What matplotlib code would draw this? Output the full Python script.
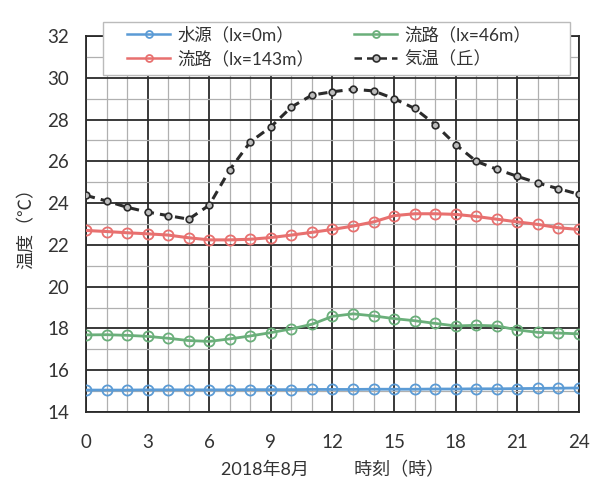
import matplotlib
matplotlib.use("Agg")
import matplotlib.pyplot as plt
from matplotlib.ticker import MultipleLocator
from matplotlib.patches import Rectangle

plt.rcParams['font.family'] = ['Lato', 'Noto Sans CJK JP', 'DejaVu Sans']

hours = list(range(25))
source_0m = [15.05, 15.05, 15.05, 15.06, 15.06, 15.06, 15.06, 15.06, 15.07, 15.07, 15.07, 15.08, 15.08,
             15.08, 15.09, 15.09, 15.09, 15.10, 15.10, 15.11, 15.11, 15.12, 15.13, 15.14, 15.15]
stream_46m = [17.69, 17.70, 17.67, 17.62, 17.53, 17.42, 17.38, 17.50, 17.64, 17.80, 17.98, 18.20, 18.58,
              18.70, 18.60, 18.47, 18.37, 18.24, 18.12, 18.15, 18.12, 17.93, 17.81, 17.78, 17.74]
stream_143m = [22.69, 22.64, 22.58, 22.53, 22.47, 22.34, 22.24, 22.24, 22.27, 22.35, 22.47, 22.60, 22.74,
               22.90, 23.10, 23.40, 23.49, 23.49, 23.46, 23.36, 23.23, 23.10, 22.98, 22.82, 22.74]
air_hill = [24.37, 24.10, 23.80, 23.57, 23.40, 23.23, 23.90, 25.60, 26.93, 27.65, 28.60, 29.17, 29.33,
            29.45, 29.37, 29.00, 28.53, 27.76, 26.80, 26.00, 25.62, 25.28, 24.96, 24.69, 24.42]

labels = ['水源（lx=0m）', '流路（lx=46m）', '流路（lx=143m）', '気温（丘）']
xticks = [0, 3, 6, 9, 12, 15, 18, 21, 24]
yticks = [14, 16, 18, 20, 22, 24, 26, 28, 30, 32]

fig = plt.figure(figsize=(6.0, 4.91), dpi=100)
ax = fig.add_axes([0.1433, 0.1609, 0.8217, 0.7658])

blue = '#5b9bd5'
green = '#6aaf7a'
red = '#e8706f'
txt = '#333333'

h1, = ax.plot(hours, source_0m, color=blue, lw=2.0, marker='o', ms=7.3, mfc='none', mec=blue, mew=1.3, zorder=5)
h2, = ax.plot(hours, stream_46m, color=green, lw=2.0, marker='o', ms=7.3, mfc='none', mec=green, mew=1.3, zorder=5)
h3, = ax.plot(hours, stream_143m, color=red, lw=2.2, marker='o', ms=7.3, mfc='none', mec=red, mew=1.3, zorder=5)
h4, = ax.plot(hours, air_hill, color='#2b2b2b', lw=2.2, ls=(0, (3, 2)), marker='o', ms=4.8, mfc='#bdbdbd',
              mec='#2b2b2b', mew=1.2, zorder=6)

ax.set_xlim(0, 24)
ax.set_ylim(14, 32)
ax.set_xticks(xticks)
ax.set_yticks(yticks)
ax.xaxis.set_minor_locator(MultipleLocator(1))
ax.yaxis.set_minor_locator(MultipleLocator(1))
ax.grid(which='major', color='#2a2a2a', lw=1.3, zorder=1)
ax.grid(which='minor', color='#b0b0b0', lw=0.9, zorder=0)
ax.set_axisbelow(True)
ax.tick_params(which='both', length=0, labelsize=13.5, colors=txt)
ax.tick_params(axis='x', pad=16)
ax.tick_params(axis='y', pad=12)
for s in ax.spines.values():
    s.set_color('#2a2a2a')
    s.set_linewidth(1.3)

ax.set_ylabel('温度（℃）', fontsize=13, color=txt, labelpad=9)
ax.set_xlabel('2018年8月　　  時刻（時）', fontsize=13, color=txt, labelpad=7)

# legend frame
frame = Rectangle((0.034, 0.896), 0.948, 0.141, transform=ax.transAxes, facecolor='white',
                  edgecolor='#bbbbbb', lw=1.0, clip_on=False, zorder=9)
ax.add_patch(frame)

leg = ax.legend([h1, h3, h2, h4], [labels[0], labels[2], labels[1], labels[3]], ncol=2,
                loc='upper left', bbox_to_anchor=(0.083, 1.026), frameon=False,
                fontsize=12.5, handlelength=2.5, handletextpad=0.4, borderaxespad=0,
                labelspacing=0.45, borderpad=0, columnspacing=2.3)
leg.set_zorder(10)
for lh in leg.legend_handles:
    lh.set_markersize(5)
    lh.set_linewidth(1.8)
for t in leg.get_texts():
    t.set_color(txt)

fig.savefig('out.png', dpi=100)
